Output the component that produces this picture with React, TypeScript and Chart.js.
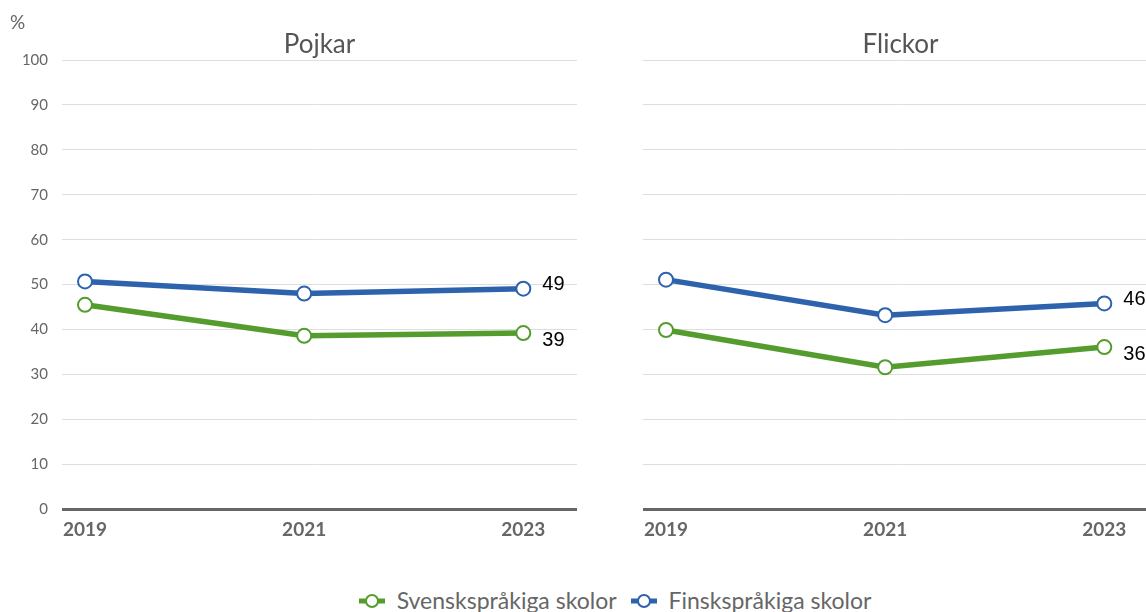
import React, { useEffect, useRef } from "react";
import { Chart, registerables } from "chart.js";

Chart.register(...registerables);

const years = [2019, 2021, 2023];
const yTicks = [0, 10, 20, 30, 40, 50, 60, 70, 80, 90, 100];
const seriesNames = ["Svenskspråkiga skolor", "Finskspråkiga skolor"];
const panelTitles = ["Pojkar", "Flickor"];

const pojkarSvensk = [45.5, 38.6, 39.2];
const pojkarFinsk = [50.7, 48.0, 49.1];
const flickorSvensk = [39.9, 31.6, 36.1];
const flickorFinsk = [51.1, 43.2, 45.8];

const pojkarLabels = ["39", "49"];
const flickorLabels = ["36", "46"];

const GREEN = "#559c2f";
const BLUE = "#2d62ad";
const GREY = "#666666";
const FONT = "Lato, 'Noto Sans', sans-serif";

function makeChart(
  canvas: HTMLCanvasElement,
  title: string,
  svensk: number[],
  finsk: number[],
  endLabels: string[],
  showY: boolean
) {
  const extrasPlugin = {
    id: "extras",
    afterDatasetsDraw(chart: any) {
      const ctx = chart.ctx;
      const area = chart.chartArea;
      ctx.save();
      ctx.font = "20px 'Liberation Sans', Arial, sans-serif";
      ctx.fillStyle = "#000";
      ctx.textBaseline = "middle";
      ctx.textAlign = "left";
      chart.data.datasets.forEach((ds: any, i: number) => {
        const meta = chart.getDatasetMeta(i);
        const last = meta.data[meta.data.length - 1];
        const yOff = i === 0 ? 7 : -4;
        ctx.fillText(endLabels[i], last.x + 19, last.y + yOff);
      });
      ctx.font = "26px " + FONT;
      ctx.fillStyle = "#555555";
      ctx.textAlign = "center";
      ctx.fillText(title, (area.left + area.right) / 2, 45);
      if (showY) {
        ctx.font = "19px " + FONT;
        ctx.fillStyle = GREY;
        ctx.textAlign = "left";
        ctx.fillText("%", 10, 23);
      }
      ctx.restore();
    },
  };

  const mkDs = (label: string, data: number[], color: string) => ({
    label,
    data: years.map((y, i) => ({ x: y, y: data[i] })),
    borderColor: color,
    backgroundColor: color,
    borderWidth: 5.5,
    pointRadius: 7,
    pointHoverRadius: 7,
    pointBorderWidth: 2,
    pointBackgroundColor: "#ffffff",
    pointBorderColor: color,
    tension: 0,
  });

  return new Chart(canvas, {
    type: "line",
    data: {
      datasets: [
        mkDs(seriesNames[0], svensk, GREEN),
        mkDs(seriesNames[1], finsk, BLUE),
      ],
    },
    plugins: [extrasPlugin],
    options: {
      animation: false,
      responsive: false,
      maintainAspectRatio: false,
      events: [],
      layout: { padding: { left: 0, right: 0, top: 60, bottom: 0 } },
      plugins: {
        legend: { display: false },
        tooltip: { enabled: false },
        title: { display: false },
      },
      scales: {
        x: {
          type: "linear",
          min: 2018.79,
          max: 2023.49,
          afterBuildTicks: (axis: any) => {
            axis.ticks = years.map((v) => ({ value: v }));
          },
          grid: { display: false, drawTicks: false },
          border: { display: false },
          ticks: {
            padding: 9,
            color: GREY,
            autoSkip: false,
            maxRotation: 0,
            font: { family: FONT, size: 19, weight: "bold" },
            callback: (v: any) => String(v),
          },
        },
        y: {
          min: 0,
          max: 100,
          afterBuildTicks: (axis: any) => {
            axis.ticks = yTicks.map((v) => ({ value: v }));
          },
          afterFit: (axis: any) => {
            axis.width = 62;
          },
          border: { display: false },
          grid: {
            drawTicks: false,
            color: (c: any) => (c.tick && c.tick.value === 0 ? GREY : "#dedede"),
            lineWidth: (c: any) => (c.tick && c.tick.value === 0 ? 3 : 1),
          },
          ticks: {
            padding: 14,
            color: showY ? GREY : "transparent",
            font: { family: FONT, size: 15 },
          },
        },
      },
    } as any,
  });
}

function LegendIcon({ color }: { color: string }) {
  return (
    <svg width="26" height="16" style={{ verticalAlign: "middle", marginRight: 12, position: "relative", top: -2 }}>
      <line x1="0" y1="8" x2="26" y2="8" stroke={color} strokeWidth="5" />
      <circle cx="13" cy="8" r="6" fill="#fff" stroke={color} strokeWidth="2" />
    </svg>
  );
}

export default function App() {
  const leftRef = useRef<HTMLCanvasElement>(null);
  const rightRef = useRef<HTMLCanvasElement>(null);

  useEffect(() => {
    document.body.style.margin = "0";
    document.body.style.overflow = "hidden";
    const c1 = makeChart(leftRef.current!, panelTitles[0], pojkarSvensk, pojkarFinsk, pojkarLabels, true);
    const c2 = makeChart(rightRef.current!, panelTitles[1], flickorSvensk, flickorFinsk, flickorLabels, false);
    return () => {
      c1.destroy();
      c2.destroy();
    };
  }, []);

  return (
    <div style={{ position: "relative", width: 1146, height: 612, overflow: "hidden", background: "#fff" }}>
      <canvas ref={leftRef} width={586} height={550} style={{ position: "absolute", left: 0, top: 0 }} />
      <canvas ref={rightRef} width={586} height={550} style={{ position: "absolute", left: 581, top: 0 }} />
      <div
        style={{
          position: "absolute",
          left: 0,
          width: 1230,
          top: 586,
          textAlign: "center",
          fontFamily: FONT,
          fontSize: 23,
          color: GREY,
          whiteSpace: "nowrap",
          lineHeight: "28px",
        }}
      >
        <span style={{ marginRight: 14 }}>
          <LegendIcon color={GREEN} />
          {seriesNames[0]}
        </span>
        <span>
          <LegendIcon color={BLUE} />
          {seriesNames[1]}
        </span>
      </div>
    </div>
  );
}
